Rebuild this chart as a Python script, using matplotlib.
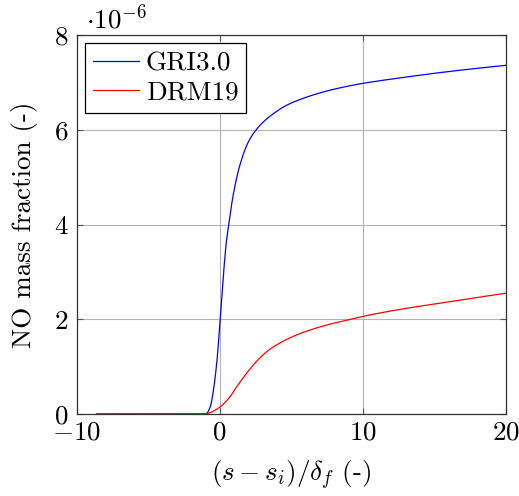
import matplotlib
matplotlib.use("Agg")
import matplotlib.pyplot as plt
import numpy as np

# Data (y in units of 1e-6)
gri_x = [-8.6, -1.3, -0.93, -0.65, -0.42, -0.18, 0.05, 0.28, 0.45, 0.63, 0.98, 1.45,
         2.03, 2.73, 3.55, 4.71, 5.64, 7.04, 8.5, 10.03, 12.5, 14.97, 17.5, 20.0]
gri_y = [0.0, 0.0, 0.01, 0.15, 0.51, 1.12, 2.0, 2.95, 3.55, 3.97, 4.66, 5.28,
         5.75, 6.06, 6.29, 6.52, 6.64, 6.78, 6.89, 6.98, 7.09, 7.19, 7.28, 7.36]
drm_x = [-8.6, -1.5, -1.0, -0.65, -0.2, 0.05, 0.4, 0.75, 1.1, 1.45, 2.0, 2.62,
         3.2, 3.78, 4.94, 6.11, 7.51, 8.91, 10.03, 12.64, 16.13, 20.0]
drm_y = [0.0, 0.0, 0.005, 0.03, 0.1, 0.15, 0.25, 0.37, 0.53, 0.68, 0.90, 1.12,
         1.29, 1.42, 1.61, 1.75, 1.88, 1.98, 2.06, 2.21, 2.37, 2.55]
series_labels = ["GRI3.0", "DRM19"]
x_ticks = [-10, 0, 10, 20]
y_ticks = [0, 2, 4, 6, 8]

plt.rcParams['font.family'] = ['cmr10', 'DejaVu Serif']
plt.rcParams['mathtext.fontset'] = 'cm'
plt.rcParams['axes.formatter.use_mathtext'] = True

FS = 19.5
fig = plt.figure(figsize=(5.19, 4.96), dpi=100)
ax = fig.add_axes([0.1474, 0.1653, 0.8266, 0.7641])

def smooth(xs, ys):
    xs = np.asarray(xs, float); ys = np.asarray(ys, float)
    xx = np.linspace(xs[0], xs[-1], 3000)
    h = np.diff(xs); d = np.diff(ys) / h
    m = np.zeros_like(ys)
    for i in range(1, len(xs) - 1):
        if d[i-1] * d[i] > 0:
            w1 = 2*h[i] + h[i-1]; w2 = h[i] + 2*h[i-1]
            m[i] = (w1 + w2) / (w1/d[i-1] + w2/d[i])
    m[0] = d[0]; m[-1] = d[-1]
    idx = np.clip(np.searchsorted(xs, xx) - 1, 0, len(xs) - 2)
    t = (xx - xs[idx]) / h[idx]
    h00 = 2*t**3 - 3*t**2 + 1; h10 = t**3 - 2*t**2 + t
    h01 = -2*t**3 + 3*t**2; h11 = t**3 - t**2
    yy = h00*ys[idx] + h10*h[idx]*m[idx] + h01*ys[idx+1] + h11*h[idx]*m[idx+1]
    return xx, yy

x1, y1 = smooth(gri_x, gri_y)
x2, y2 = smooth(drm_x, drm_y)
ax.plot(x1, y1, color='#0000ff', lw=0.9, label=series_labels[0], zorder=3)
ax.plot(x2, y2, color='#ff0000', lw=0.9, label=series_labels[1], zorder=3)

ax.set_xlim(-10, 20)
ax.set_ylim(0, 8)
ax.set_xticks(x_ticks)
ax.set_yticks(y_ticks)
ax.set_xticklabels([f"${v}$" if v >= 0 else f"$-{abs(v)}$" for v in x_ticks])
ax.set_yticklabels([f"${v}$" for v in y_ticks])
ax.grid(True, color='#b3b3b3', lw=0.8)
ax.set_axisbelow(True)
ax.tick_params(direction='in', length=4, width=0.8, color='#555555',
               top=True, right=True, labelsize=FS)
ax.tick_params(axis='x', pad=5)
ax.tick_params(axis='y', pad=6)
for s in ax.spines.values():
    s.set_color('#333333')
    s.set_linewidth(0.9)

ax.set_xlabel(r"$(s-s_i)/\delta_f$ (-)", fontsize=FS, labelpad=10)
ax.set_ylabel("NO mass fraction (-)", fontsize=FS, labelpad=11)
ax.annotate(r"$\cdot 10^{-6}$", xy=(0.0, 1.0), xycoords='axes fraction',
            xytext=(7, 1.5), textcoords='offset points', fontsize=FS,
            ha='left', va='bottom')

leg = ax.legend(loc='upper left', fontsize=FS, frameon=True, fancybox=False,
                edgecolor='black', framealpha=1, borderaxespad=0.3,
                handlelength=1.7, handletextpad=0.25, borderpad=0.3,
                labelspacing=0.2)
leg.get_frame().set_linewidth(0.9)

fig.savefig("out.png", dpi=100)
